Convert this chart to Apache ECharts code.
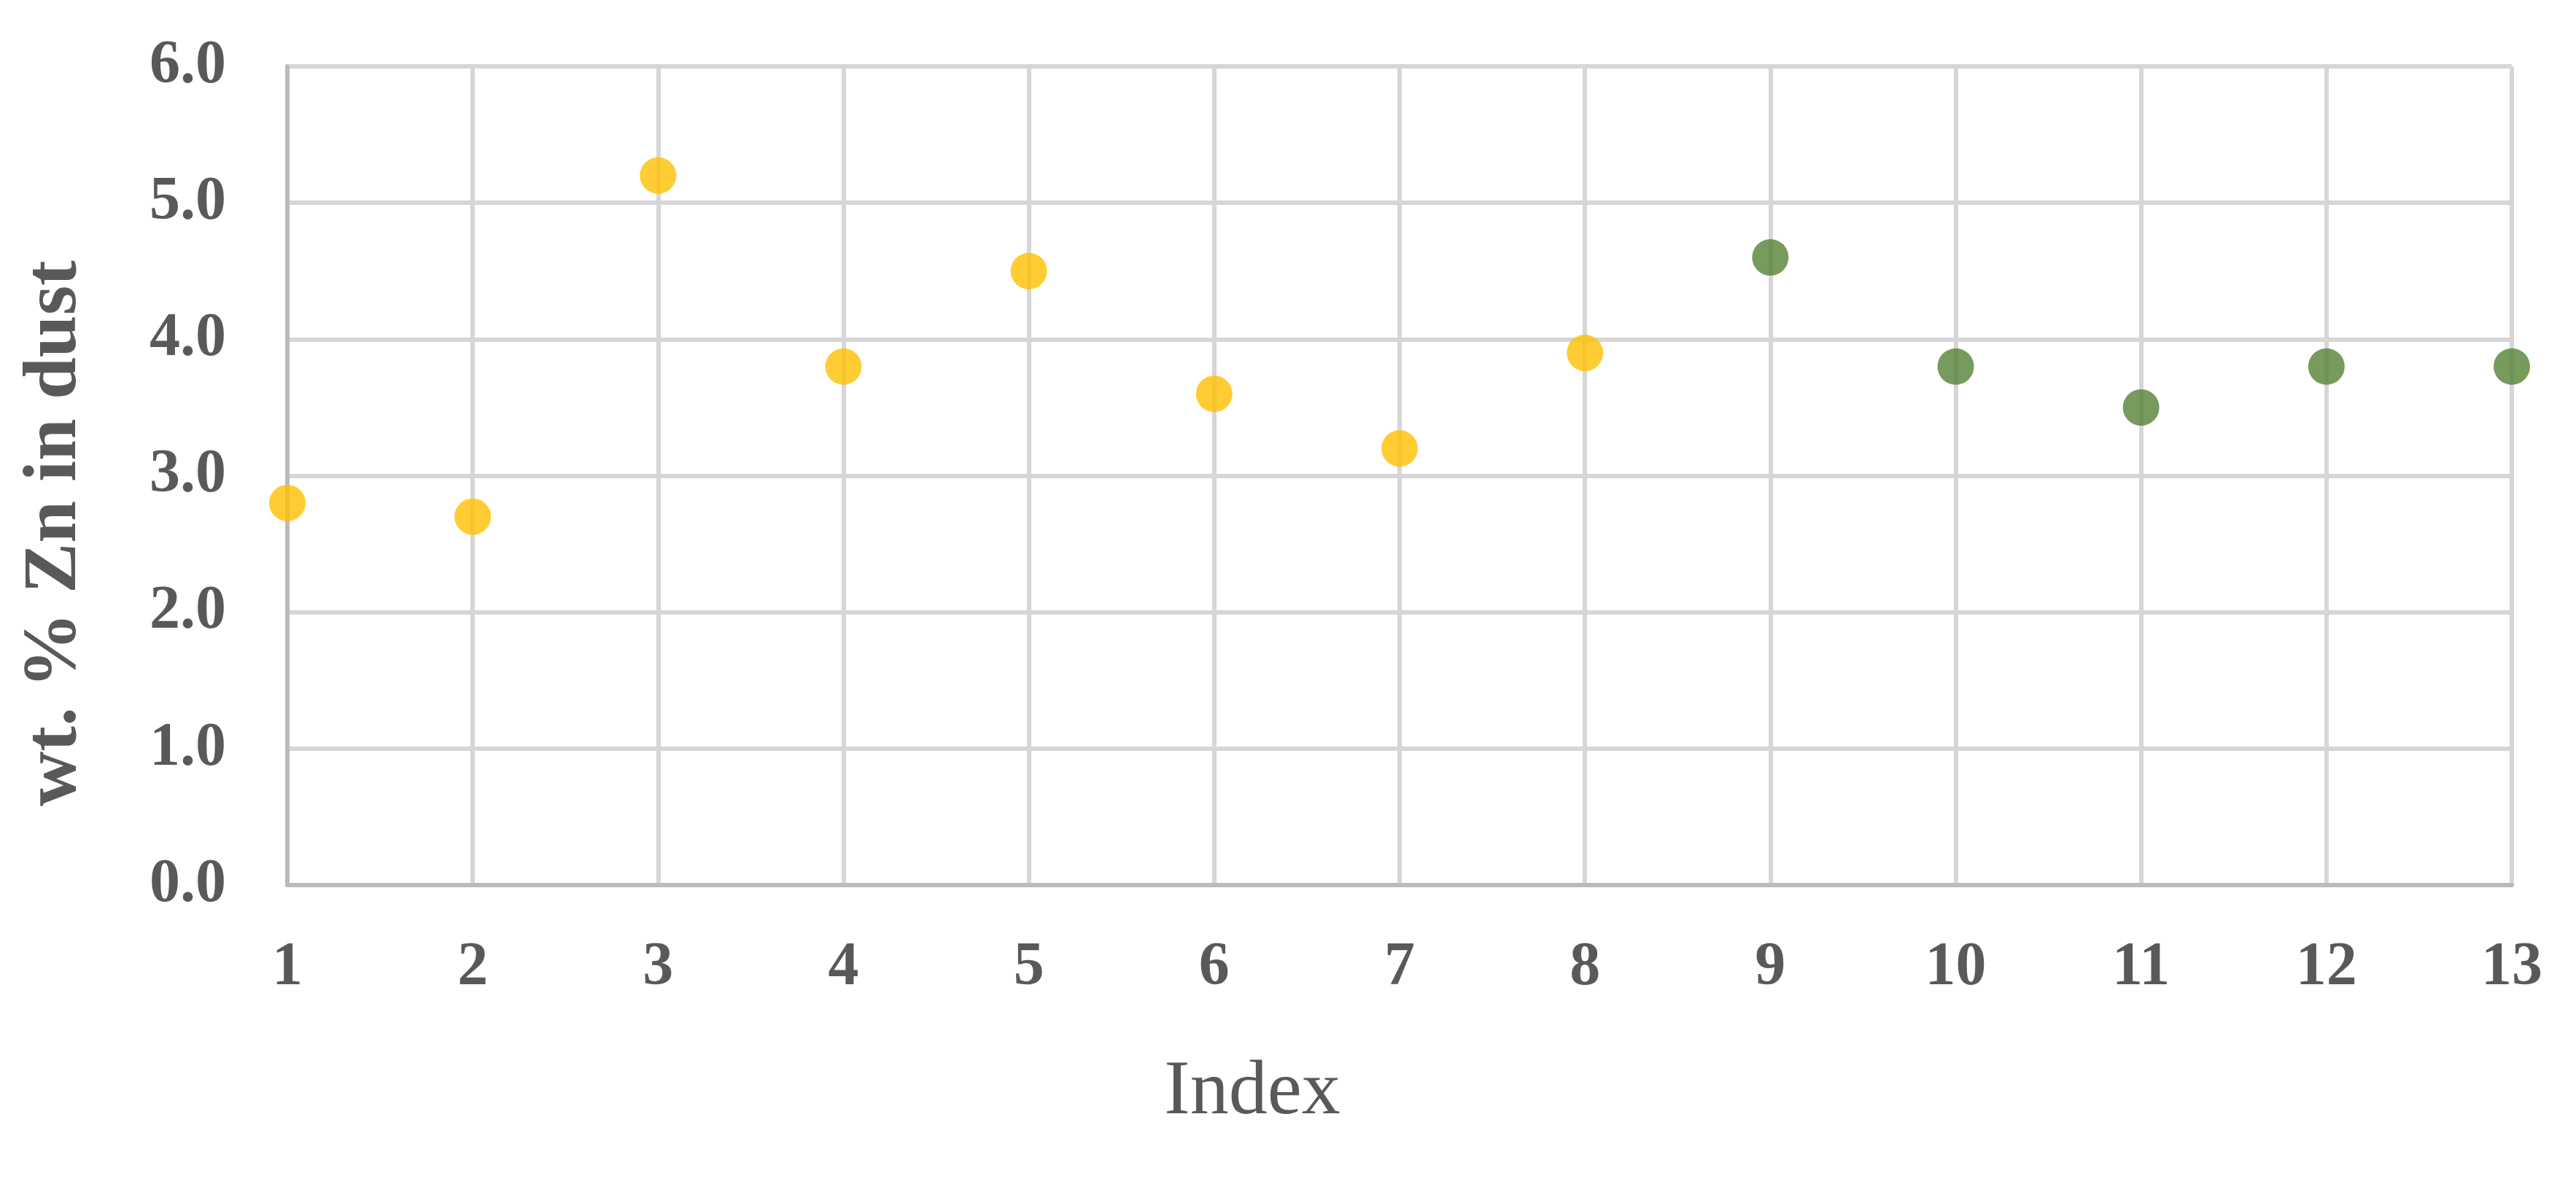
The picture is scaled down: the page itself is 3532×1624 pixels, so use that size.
<!DOCTYPE html>
<html>
<head>
<meta charset="utf-8">
<script src="https://cdn.jsdelivr.net/npm/echarts@6/dist/echarts.min.js"></script>
<style>
html,body{margin:0;padding:0;background:#fff;}
#chart{width:3532px;height:1624px;}
</style>
</head>
<body>
<div id="chart"></div>
<script>
// Data
const yellowIndex = [1, 2, 3, 4, 5, 6, 7, 8];
const yellowZn    = [2.8, 2.7, 5.2, 3.8, 4.5, 3.6, 3.2, 3.9];
const greenIndex  = [9, 10, 11, 12, 13];
const greenZn     = [4.6, 3.8, 3.5, 3.8, 3.8];
const xAxisTitle = 'Index';
const yAxisTitle = 'wt. % Zn in dust';

const pairs = (xs, ys) => xs.map((x, i) => [x, ys[i]]);

const chart = echarts.init(document.getElementById('chart'));
const labelFont = { fontFamily: 'Liberation Serif', fontWeight: 'bold', fontSize: 84, color: '#595959' };
const gridLine = { show: true, lineStyle: { color: '#D6D6D6', width: 6, type: 'solid' } };

chart.setOption({
  animation: false,
  backgroundColor: '#ffffff',
  grid: { left: 394, top: 91, right: 88, bottom: 410, containLabel: false, outerBoundsMode: 'none' },
  xAxis: {
    type: 'value', min: 1, max: 13, interval: 1,
    axisLine: { show: true, lineStyle: { color: '#BBBBBB', width: 6 } },
    axisTick: { show: false },
    splitLine: gridLine,
    axisLabel: Object.assign({ margin: 72, formatter: v => String(v) }, labelFont),
    name: xAxisTitle, nameLocation: 'middle', nameGap: 232,
    nameTextStyle: { fontFamily: 'Liberation Serif', fontSize: 106, color: '#595959', padding: [0, 404, 0, 0] }
  },
  yAxis: {
    type: 'value', min: 0, max: 6, interval: 1,
    axisLine: { show: true, lineStyle: { color: '#BBBBBB', width: 6 } },
    axisTick: { show: false },
    splitLine: gridLine,
    axisLabel: Object.assign({ margin: 84, formatter: v => v.toFixed(1) }, labelFont),
    name: yAxisTitle, nameLocation: 'middle', nameGap: 266, nameRotate: 90,
    nameTextStyle: { fontFamily: 'Liberation Serif', fontWeight: 'bold', fontSize: 104, color: '#595959', padding: [0, 158, 0, 0] }
  },
  series: [
    { type: 'scatter', data: pairs(yellowIndex, yellowZn), symbol: 'circle', symbolSize: 50, clip: false,
      itemStyle: { color: '#FFC000' } },
    { type: 'scatter', data: pairs(greenIndex, greenZn), symbol: 'circle', symbolSize: 50, clip: false,
      itemStyle: { color: '#548235' } }
  ]
});
</script>
</body>
</html>
